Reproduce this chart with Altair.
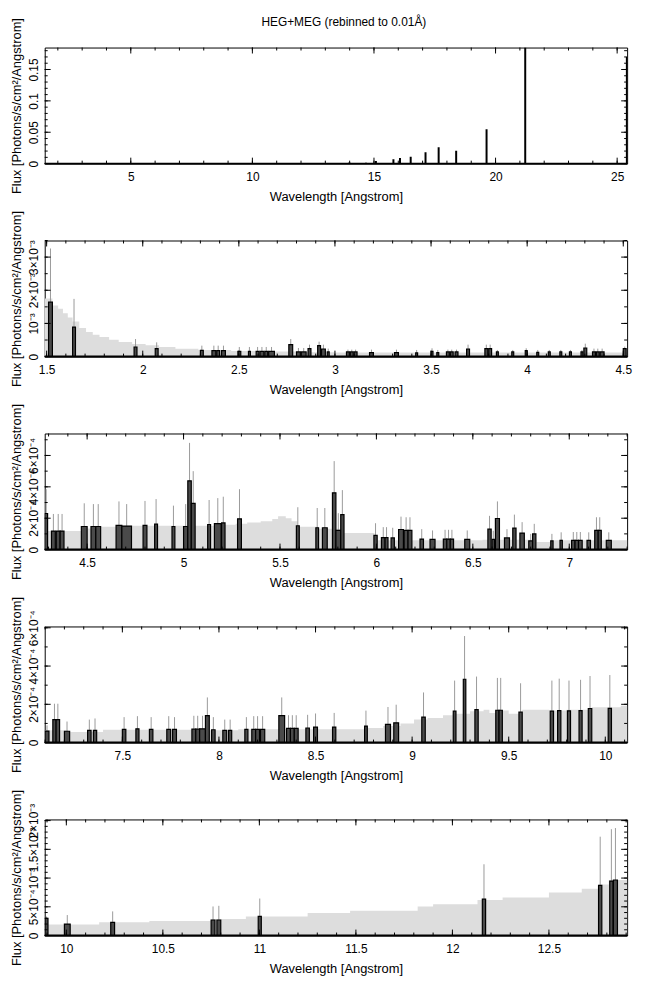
import altair as alt
import pandas as pd

FONT = "Liberation Sans"
TITLE = "HEG+MEG (rebinned to 0.01Å)"
XTITLE = "Wavelength [Angstrom]"
YTITLE = "Flux [Photons/s/cm²/Angstrom]"

# ---------------- Panel 1: full range overview ----------------
P1_XDOM = [1.46, 25.41]
P1_YDOM = [0, 0.185]
P1_LINE_X = [13.99, 14.67, 15.08, 15.80, 16.07, 16.51, 17.12, 17.66, 18.38, 19.63, 21.22, 25.40]
P1_LINE_Y = [0.0018, 0.0015, 0.0040, 0.0068, 0.0089, 0.0110, 0.0183, 0.0261, 0.0204, 0.0549, 0.185, 0.170]
P1_XTICKS = [5, 10, 15, 20, 25]
P1_YTICKS = [0, 0.05, 0.1, 0.15]
P1_YLABELS = ["0", "0.05", "0.1", "0.15"]

# ---------------- Panel 2: 1.5 - 4.5 A (unit 1e-3) ----------------
P2_UNIT = 1e-3
P2_XDOM = [1.49, 4.52]
P2_YDOM = [0, 3.5]
P2_ENV_X = [1.49, 1.53, 1.56, 1.585, 1.61, 1.635, 1.67, 1.705, 1.74, 1.775, 1.825, 1.875,
            1.945, 2.015, 2.085, 2.17, 2.29, 2.46, 2.63, 2.80, 3.00, 4.52]
P2_ENV_Y = [1.75, 1.54, 1.44, 1.31, 1.18, 1.06, 0.86, 0.74, 0.66, 0.59, 0.51, 0.44,
            0.38, 0.34, 0.29, 0.24, 0.20, 0.17, 0.15, 0.13, 0.12, 0.12]
P2_LO = [1.51, 1.635, 1.955, 2.065, 2.30, 2.36, 2.385, 2.41, 2.495, 2.55, 2.59, 2.61, 2.635, 2.655,
         2.76, 2.80, 2.825, 2.86, 2.91, 2.93, 2.96, 3.06, 3.08, 3.10, 3.18, 3.31, 3.42, 3.50, 3.53,
         3.58, 3.60, 3.625, 3.685, 3.78, 3.80, 3.84, 3.92, 3.99, 4.05, 4.11, 4.17, 4.22, 4.28, 4.295,
         4.34, 4.36, 4.38, 4.50]
P2_HI = [1.53, 1.65, 1.97, 2.08, 2.315, 2.38, 2.40, 2.43, 2.51, 2.56, 2.605, 2.63, 2.65, 2.685,
         2.78, 2.82, 2.85, 2.875, 2.925, 2.95, 2.97, 3.075, 3.095, 3.115, 3.20, 3.33, 3.43, 3.51, 3.54,
         3.595, 3.615, 3.64, 3.70, 3.795, 3.815, 3.85, 3.93, 4.00, 4.06, 4.12, 4.18, 4.23, 4.29, 4.31,
         4.355, 4.375, 4.40, 4.515]
P2_FLUX = [1.64, 0.89, 0.29, 0.24, 0.19, 0.18, 0.18, 0.18, 0.16, 0.16, 0.16, 0.16, 0.16, 0.16,
           0.36, 0.14, 0.14, 0.24, 0.33, 0.23, 0.14, 0.14, 0.14, 0.14, 0.12, 0.12, 0.11, 0.16, 0.12,
           0.14, 0.14, 0.14, 0.23, 0.24, 0.24, 0.14, 0.14, 0.18, 0.13, 0.14, 0.14, 0.14, 0.14, 0.26,
           0.14, 0.14, 0.14, 0.24]
P2_ERR = [3.26, 1.74, 0.53, 0.43, 0.33, 0.33, 0.33, 0.33, 0.29, 0.29, 0.29, 0.29, 0.29, 0.29,
          0.53, 0.26, 0.26, 0.36, 0.45, 0.36, 0.24, 0.21, 0.21, 0.21, 0.21, 0.21, 0.20, 0.25, 0.20,
          0.21, 0.21, 0.21, 0.36, 0.36, 0.36, 0.20, 0.20, 0.25, 0.20, 0.20, 0.20, 0.20, 0.20, 0.39,
          0.24, 0.24, 0.24, 0.30]
P2_XTICKS = [1.5, 2, 2.5, 3, 3.5, 4, 4.5]
P2_YTICKS = [0, 1, 2, 3]
P2_YLABELS = ["0", "10⁻³", "2×10⁻³", "3×10⁻³"]

# ---------------- Panel 3: 4.3 - 7.3 A (unit 1e-4) ----------------
P3_UNIT = 1e-4
P3_XDOM = [4.28, 7.30]
P3_YDOM = [0, 7.4]
P3_ENV_X = [4.28, 4.50, 4.56, 4.65, 5.20, 5.27, 5.33, 5.40, 5.46, 5.49, 5.53, 5.56, 5.59, 5.70,
            5.83, 5.99, 6.55, 6.83, 6.90, 7.31]
P3_ENV_Y = [1.18, 1.35, 1.45, 1.52, 1.58, 1.64, 1.73, 1.81, 1.95, 2.13, 2.00, 1.80, 1.45, 1.33,
            1.05, 0.59, 0.62, 0.48, 0.59, 0.59]
P3_LO = [4.28, 4.315, 4.34, 4.36, 4.47, 4.52, 4.545, 4.65, 4.68, 4.79, 4.85, 4.94, 5.00, 5.022, 5.04,
         5.125, 5.16, 5.197, 5.28, 5.585, 5.686, 5.72, 5.772, 5.79, 5.815, 5.987, 6.026, 6.045, 6.076,
         6.115, 6.144, 6.164, 6.226, 6.278, 6.347, 6.365, 6.383, 6.458, 6.578, 6.60, 6.617, 6.664,
         6.707, 6.744, 6.79, 6.81, 6.904, 6.952, 7.012, 7.03, 7.048, 7.092, 7.132, 7.15, 7.192]
P3_HI = [4.295, 4.335, 4.36, 4.38, 4.50, 4.545, 4.57, 4.68, 4.73, 4.81, 4.865, 4.955, 5.022, 5.04, 5.06,
         5.14, 5.195, 5.215, 5.30, 5.60, 5.70, 5.745, 5.79, 5.815, 5.832, 6.004, 6.045, 6.06, 6.093,
         6.14, 6.164, 6.184, 6.244, 6.304, 6.365, 6.383, 6.40, 6.484, 6.595, 6.612, 6.638, 6.69,
         6.724, 6.767, 6.81, 6.827, 6.916, 6.964, 7.03, 7.048, 7.067, 7.11, 7.15, 7.166, 7.218]
P3_FLUX = [2.30, 1.18, 1.18, 1.18, 1.47, 1.47, 1.47, 1.54, 1.50, 1.54, 1.62, 1.47, 1.47, 4.38, 2.95,
           1.60, 1.66, 1.70, 1.96, 1.52, 1.39, 1.39, 3.62, 1.22, 2.23, 0.90, 0.76, 0.76, 0.74,
           1.28, 1.22, 1.22, 0.67, 0.65, 0.67, 0.67, 0.67, 0.65, 1.30, 0.65, 1.98, 0.74,
           1.37, 1.05, 0.55, 1.00, 0.55, 0.59, 0.59, 0.59, 0.59, 0.59, 1.22, 1.22, 0.59]
P3_ERR = [3.85, 2.27, 2.27, 2.27, 2.95, 2.90, 2.90, 3.07, 2.90, 3.10, 3.22, 2.80, 2.90, 6.80, 5.00,
          3.16, 3.28, 3.37, 3.85, 2.70, 2.65, 2.65, 5.64, 2.32, 3.79, 1.68, 1.43, 1.43, 1.39,
          2.10, 2.06, 2.06, 1.30, 1.22, 1.26, 1.26, 1.26, 1.22, 2.15, 1.20, 3.07, 1.30,
          2.23, 1.75, 1.00, 1.64, 1.00, 1.10, 1.12, 1.12, 1.12, 1.10, 2.06, 2.06, 1.10]
P3_XTICKS = [4.5, 5, 5.5, 6, 6.5, 7]
P3_YTICKS = [0, 2, 4, 6]
P3_YLABELS = ["0", "2×10⁻⁴", "4×10⁻⁴", "6×10⁻⁴"]

# ---------------- Panel 4: 7.1 - 10.1 A (unit 1e-4) ----------------
P4_UNIT = 1e-4
P4_XDOM = [7.098, 10.113]
P4_YDOM = [0, 6.07]
P4_ENV_X = [7.10, 7.22, 7.40, 7.95, 8.10, 8.77, 8.85, 8.94, 9.01, 9.08, 9.16, 9.21, 9.30, 9.37,
            9.40, 9.46, 9.50, 9.57, 9.71, 9.80, 9.93, 10.08, 10.12]
P4_ENV_Y = [0.64, 0.55, 0.67, 0.64, 0.69, 0.76, 0.86, 1.00, 1.20, 1.29, 1.43, 1.50, 1.64, 1.72,
            1.55, 1.67, 1.50, 1.72, 1.67, 1.72, 1.84, 1.93, 1.93]
P4_LO = [7.10, 7.14, 7.157, 7.20, 7.32, 7.35, 7.50, 7.57, 7.64, 7.73, 7.76, 7.86, 7.88, 7.90, 7.93,
         7.962, 8.02, 8.05, 8.134, 8.17, 8.19, 8.215, 8.31, 8.35, 8.37, 8.39, 8.45, 8.49, 8.588,
         8.754, 8.862, 8.905, 9.05, 9.213, 9.265, 9.325, 9.433, 9.45, 9.553, 9.715, 9.753, 9.804,
         9.864, 9.912, 10.015]
P4_HI = [7.12, 7.157, 7.175, 7.227, 7.338, 7.367, 7.518, 7.586, 7.658, 7.75, 7.78, 7.88, 7.90, 7.93, 7.95,
         7.98, 8.04, 8.066, 8.15, 8.19, 8.21, 8.237, 8.34, 8.37, 8.39, 8.41, 8.468, 8.51, 8.605,
         8.768, 8.888, 8.93, 9.068, 9.227, 9.278, 9.342, 9.45, 9.467, 9.57, 9.732, 9.77, 9.82,
         9.88, 9.93, 10.032]
P4_FLUX = [0.60, 1.20, 1.20, 0.59, 0.64, 0.64, 0.69, 0.72, 0.69, 0.69, 0.69, 0.70, 0.70, 0.72, 1.41,
           0.67, 0.64, 0.64, 0.69, 0.69, 0.69, 0.69, 1.41, 0.74, 0.74, 0.74, 0.76, 0.81, 0.81,
           0.86, 0.95, 1.03, 1.33, 1.64, 3.31, 1.72, 1.69, 1.69, 1.59, 1.64, 1.67, 1.66,
           1.67, 1.78, 1.79]
P4_ERR = [0.90, 2.03, 2.03, 1.10, 1.20, 1.26, 1.33, 1.38, 1.33, 1.38, 1.33, 1.40, 1.40, 1.40, 2.36,
          1.33, 1.20, 1.20, 1.33, 1.38, 1.38, 1.38, 2.36, 1.43, 1.43, 1.43, 1.45, 1.52, 1.55,
          1.67, 1.86, 1.98, 2.62, 3.24, 5.57, 3.45, 3.38, 3.38, 3.10, 3.24, 3.34, 3.24,
          3.28, 3.48, 3.53]
P4_XTICKS = [7.5, 8, 8.5, 9, 9.5, 10]
P4_YTICKS = [0, 2, 4, 6]
P4_YLABELS = ["0", "2×10⁻⁴", "4×10⁻⁴", "6×10⁻⁴"]

# ---------------- Panel 5: 9.9 - 12.9 A (unit 1e-4) ----------------
P5_UNIT = 1e-4
P5_XDOM = [9.888, 12.905]
P5_YDOM = [0, 20.2]
P5_ENV_X = [9.89, 10.17, 10.43, 10.75, 10.93, 11.25, 11.47, 11.82, 11.90, 12.13, 12.26, 12.50,
            12.67, 12.76, 12.81, 12.91]
P5_ENV_Y = [1.90, 2.30, 2.53, 2.87, 3.33, 3.90, 4.30, 5.06, 5.46, 6.20, 6.60, 7.50,
            8.16, 8.90, 9.66, 9.66]
P5_LO = [9.89, 9.99, 10.23, 10.75, 10.78, 10.994, 12.155, 12.757, 12.815, 12.834]
P5_HI = [9.905, 10.02, 10.25, 10.77, 10.80, 11.01, 12.172, 12.774, 12.832, 12.855]
P5_FLUX = [3.00, 2.00, 2.30, 2.70, 2.70, 3.33, 6.32, 8.74, 9.48, 9.66]
P5_ERR = [3.30, 3.56, 4.20, 5.06, 5.17, 6.44, 12.40, 17.20, 18.50, 18.70]
P5_XTICKS = [10, 10.5, 11, 11.5, 12, 12.5]
P5_YTICKS = [0, 5, 10, 15, 20]
P5_YLABELS = ["0", "5×10⁻⁴", "10⁻³", "1.5×10⁻³", "2×10⁻³"]

W, H = 587, 117
MAJ, MIN = 6, 3


def label_expr(vals, labs, tol):
    parts = [f"abs(datum.value-({v}))<{tol}?'{l}':" for v, l in zip(vals, labs)]
    return "".join(parts) + "''"


def steps(a, b, step):
    n = int(round((b - a) / step))
    return [round(a + i * step, 6) for i in range(n + 1)]


def make_axes(xticks, yticks, ylabels, tol):
    xax = alt.Axis(values=xticks, format="~g", ticks=False, tickSize=0, domain=False, grid=False,
                   labelPadding=8, labelFlush=False, titlePadding=8, title=XTITLE)
    yax = alt.Axis(values=yticks, labelExpr=label_expr(yticks, ylabels, tol), ticks=False, tickSize=0,
                   domain=False, grid=False, labelAngle=270, labelAlign="center", labelBaseline="bottom",
                   labelPadding=4, labelFlush=False, labelOverlap=False, minExtent=16, maxExtent=16,
                   titlePadding=5, title=YTITLE)
    return xax, yax


def tick_layers(xs, ys, xax, yax, xmaj, xmin, ymaj, ymin):
    layers = []
    for vals, ln in ((xmaj, MAJ), (xmin, MIN)):
        df = pd.DataFrame({"v": vals})
        for top in (True, False):
            layers.append(alt.Chart(df).mark_rule(color="black", strokeWidth=1).encode(
                x=alt.X("v:Q", scale=xs, axis=xax),
                y=alt.value(0 if top else H),
                y2=alt.value(ln if top else H - ln)))
    for vals, ln in ((ymaj, MAJ), (ymin, MIN)):
        df = pd.DataFrame({"v": vals})
        for left in (True, False):
            layers.append(alt.Chart(df).mark_rule(color="black", strokeWidth=1).encode(
                y=alt.Y("v:Q", scale=ys, axis=yax),
                x=alt.value(0 if left else W),
                x2=alt.value(ln if left else W - ln)))
    return layers


def panel(xdom, ydom, unit, env_x, env_y, lo, hi, flux, err, xticks, xminstep,
          yticks, ylabels, yminstep, tol):
    xs = alt.Scale(domain=xdom, nice=False, zero=False)
    ys = alt.Scale(domain=ydom, nice=False, zero=False)
    xax, yax = make_axes(xticks, yticks, ylabels, tol)
    env = pd.DataFrame({"x": env_x, "e": env_y})
    bins = pd.DataFrame({"lo": lo, "hi": hi, "f": flux, "err": err})
    bins["xc"] = (bins["lo"] + bins["hi"]) / 2
    bins["z"] = 0.0
    l_env = alt.Chart(env).mark_area(interpolate="step-after", color="#dddddd", clip=True).encode(
        x=alt.X("x:Q", scale=xs, axis=xax),
        y=alt.Y("e:Q", scale=ys, axis=yax))
    l_err = alt.Chart(bins).mark_rule(color="#9a9a9a", strokeWidth=1, clip=True).encode(
        x=alt.X("xc:Q", scale=xs, axis=xax),
        y=alt.Y("z:Q", scale=ys, axis=yax), y2="err:Q")
    l_bar = alt.Chart(bins).mark_rect(fill="#4a4a4a", stroke="black", strokeWidth=1.2, clip=True).encode(
        x=alt.X("lo:Q", scale=xs, axis=xax), x2="hi:Q",
        y=alt.Y("z:Q", scale=ys, axis=yax), y2="f:Q")
    l_base = alt.Chart(pd.DataFrame({"z": [0.0]})).mark_rule(color="black", strokeWidth=2).encode(
        y=alt.Y("z:Q", scale=ys, axis=yax))
    xmin = steps(round(xdom[0] + 0.049, 1), round(xdom[1] - 0.049, 1), xminstep)
    ytop = yticks[-1] + yminstep * int((ydom[1] - yticks[-1]) / yminstep)
    ymin = steps(0, ytop, yminstep)
    ticks = tick_layers(xs, ys, xax, yax, xticks, xmin, yticks, ymin)
    return alt.layer(l_env, l_err, l_bar, l_base, *ticks).properties(width=W, height=H)


def panel1():
    xs = alt.Scale(domain=P1_XDOM, nice=False, zero=False)
    ys = alt.Scale(domain=P1_YDOM, nice=False, zero=False)
    xax, yax = make_axes(P1_XTICKS, P1_YTICKS, P1_YLABELS, 1e-4)
    df = pd.DataFrame({"x": P1_LINE_X, "y": P1_LINE_Y, "z": 0.0})
    l_lines = alt.Chart(df).mark_rule(color="black", strokeWidth=2, clip=True).encode(
        x=alt.X("x:Q", scale=xs, axis=xax),
        y=alt.Y("z:Q", scale=ys, axis=yax), y2="y:Q")
    l_base = alt.Chart(pd.DataFrame({"z": [0.0]})).mark_rule(color="black", strokeWidth=2).encode(
        y=alt.Y("z:Q", scale=ys, axis=yax))
    xmin = steps(2, 25, 1)
    ymin = steps(0, 0.18, 0.01)
    ticks = tick_layers(xs, ys, xax, yax, P1_XTICKS, xmin, P1_YTICKS, ymin)
    return alt.layer(l_lines, l_base, *ticks).properties(width=W, height=H)


p1 = panel1()
p2 = panel(P2_XDOM, P2_YDOM, P2_UNIT, P2_ENV_X, P2_ENV_Y, P2_LO, P2_HI, P2_FLUX, P2_ERR,
           P2_XTICKS, 0.1, P2_YTICKS, P2_YLABELS, 0.5, 1e-3)
p3 = panel(P3_XDOM, P3_YDOM, P3_UNIT, P3_ENV_X, P3_ENV_Y, P3_LO, P3_HI, P3_FLUX, P3_ERR,
           P3_XTICKS, 0.1, P3_YTICKS, P3_YLABELS, 1, 1e-3)
p4 = panel(P4_XDOM, P4_YDOM, P4_UNIT, P4_ENV_X, P4_ENV_Y, P4_LO, P4_HI, P4_FLUX, P4_ERR,
           P4_XTICKS, 0.1, P4_YTICKS, P4_YLABELS, 1, 1e-3)
p5 = panel(P5_XDOM, P5_YDOM, P5_UNIT, P5_ENV_X, P5_ENV_Y, P5_LO, P5_HI, P5_FLUX, P5_ERR,
           P5_XTICKS, 0.1, P5_YTICKS, P5_YLABELS, 1, 1e-3)

chart = alt.vconcat(p1, p2, p3, p4, p5, spacing=77.5, bounds="flush").properties(
    title=alt.TitleParams(TITLE, fontSize=12, fontWeight="normal", font=FONT, anchor="middle",
                          frame="group", offset=-12, dx=8)
).configure(
    padding={"left": 2, "top": 4, "right": 10, "bottom": 4}
).configure_axis(
    labelFont=FONT, titleFont=FONT, labelFontSize=12, titleFontSize=13, titleFontWeight="normal",
    labelColor="black", titleColor="black"
).configure_view(stroke="black", strokeWidth=1)

chart.save("out.html", embed_options={"renderer": "svg", "actions": False})
